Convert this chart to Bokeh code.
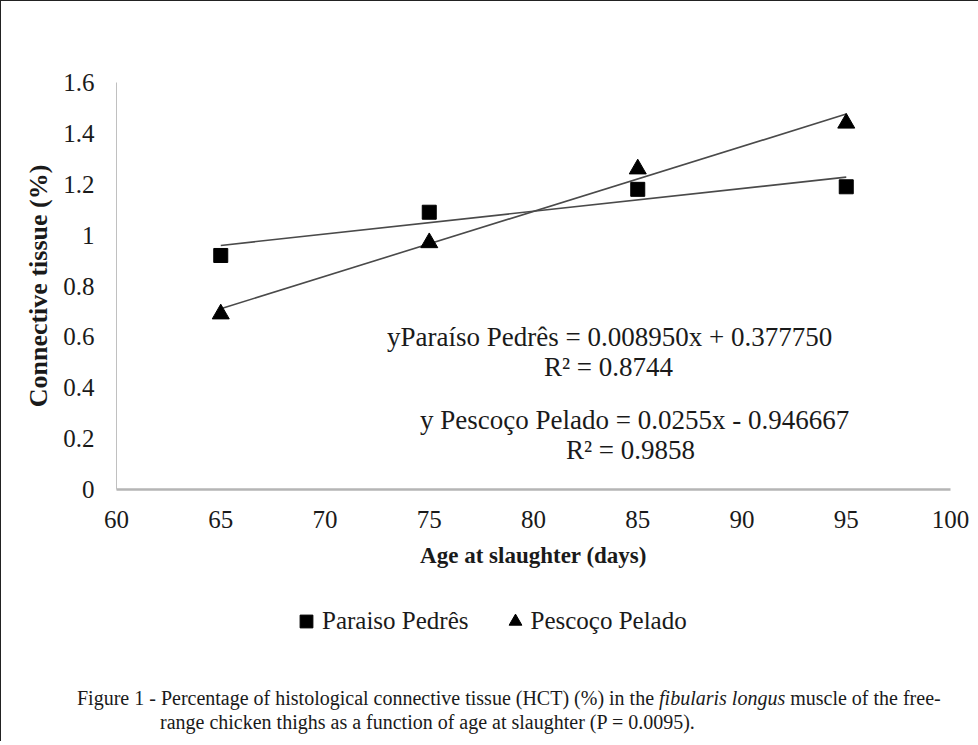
from bokeh.plotting import figure
from bokeh.models import (Range1d, FixedTicker, NumeralTickFormatter, Legend,
                          LegendItem, Label, Div)
from bokeh.layouts import column
from bokeh.embed import file_html
from bokeh.resources import INLINE

# ---------------- data ----------------
ages = [65, 75, 85, 95]
paraiso = [0.92, 1.09, 1.18, 1.19]
pescoco = [0.69, 0.97, 1.26, 1.44]

paraiso_slope, paraiso_intercept = 0.008950, 0.377750
pescoco_slope, pescoco_intercept = 0.0255, -0.946667

x_ticks = [60, 65, 70, 75, 80, 85, 90, 95, 100]
y_ticks = [0, 0.2, 0.4, 0.6, 0.8, 1.0, 1.2, 1.4, 1.6]

series_names = ["Paraiso Pedrês", "Pescoço Pelado"]
eq_texts = ["yParaíso Pedrês = 0.008950x + 0.377750", "R² = 0.8744",
            "y Pescoço Pelado = 0.0255x - 0.946667", "R² = 0.9858"]
x_title = "Age at slaughter (days)"
y_title = "Connective tissue (%)"
caption_1 = ("Figure 1 - Percentage of histological connective tissue (HCT) (%) in the "
             "<i>fibularis longus</i> muscle of the free-")
caption_2 = "range chicken thighs as a function of age at slaughter (P = 0.0095)."

SERIF = "Liberation Serif"
TXT = "#1a1a1a"

# ---------------- main chart ----------------
p = figure(width=968, height=578, x_range=Range1d(60, 100), y_range=Range1d(0, 1.6),
           output_backend="svg", toolbar_location=None,
           min_border_left=115, min_border_right=19, min_border_top=81,
           min_border_bottom=90)
p.outline_line_color = None
p.grid.grid_line_color = None
p.background_fill_color = "white"
p.border_fill_color = "white"

tx = [min(ages), max(ages)]
p.line(tx, [paraiso_slope * x + paraiso_intercept for x in tx], line_color="#4a4a4a", line_width=1.6)
p.line(tx, [pescoco_slope * x + pescoco_intercept for x in tx], line_color="#4a4a4a", line_width=1.6)

p.scatter(ages, paraiso, marker="square", size=14, fill_color="black", line_color="black")
p.scatter(ages, pescoco, marker="triangle", size=17, fill_color="black", line_color="black")

p.xaxis.ticker = FixedTicker(ticks=x_ticks)
p.yaxis.ticker = FixedTicker(ticks=y_ticks)
p.yaxis.formatter = NumeralTickFormatter(format="0.[0]")
for ax in (p.xaxis[0], p.yaxis[0]):
    ax.major_tick_line_color = None
    ax.minor_tick_line_color = None
    ax.major_label_text_font = SERIF
    ax.major_label_text_font_size = "25px"
    ax.major_label_text_color = TXT
    ax.axis_label_text_font = SERIF
    ax.axis_label_text_font_style = "bold"
    ax.axis_label_text_color = TXT
p.xaxis.axis_label_text_font_size = "23px"
p.yaxis.axis_label_text_font_size = "26px"
p.xaxis.axis_line_color = "#b5b5b5"
p.xaxis.axis_line_width = 2.5
p.yaxis.axis_line_color = "#c0c0c0"
p.yaxis.axis_line_width = 1
p.xaxis.axis_label = x_title
p.yaxis.axis_label = y_title
p.xaxis.major_label_standoff = 15
p.xaxis.axis_label_standoff = 12
p.yaxis.major_label_standoff = 16
p.yaxis.axis_label_standoff = 7

eq_pos = [(83.65, 0.598), (83.6, 0.48), (84.85, 0.275), (84.65, 0.157)]
for t, (ex, ey) in zip(eq_texts, eq_pos):
    p.add_layout(Label(x=ex, y=ey, text=t, text_font=SERIF, text_font_size="27px",
                       text_color=TXT, text_align="center", text_baseline="middle"))

# ---------------- legend strip ----------------
lg = figure(width=968, height=80, x_range=Range1d(0, 1), y_range=Range1d(0, 1),
            output_backend="svg", toolbar_location=None,
            x_axis_location=None, y_axis_location=None,
            min_border_left=0, min_border_right=0, min_border_top=4, min_border_bottom=0)
lg.outline_line_color = None
lg.grid.grid_line_color = None
# same series, drawn outside this strip's view: only their legend glyphs show
lg_sq = lg.scatter(ages, paraiso, marker="square", size=14, fill_color="black", line_color="black")
lg_tr = lg.scatter(ages, pescoco, marker="triangle", size=14, fill_color="black", line_color="black")
legend = Legend(items=[LegendItem(label=series_names[0], renderers=[lg_sq]),
                       LegendItem(label=series_names[1], renderers=[lg_tr])],
                orientation="horizontal", location=(174, 22))
legend.label_text_font = SERIF
legend.label_text_font_size = "25px"
legend.label_text_color = TXT
legend.border_line_color = None
legend.background_fill_alpha = 0
legend.glyph_width = 32
legend.glyph_height = 32
legend.label_standoff = 0
legend.spacing = 30
legend.margin = 0
legend.padding = 0
lg.add_layout(legend)

div = Div(text=(
    f'<div style="font-family:\'{SERIF}\';font-size:20px;color:{TXT};line-height:24px;'
    f'padding-top:22px;">'
    f'<div style="margin-left:71px;white-space:nowrap;">{caption_1}</div>'
    f'<div style="margin-left:154px;white-space:nowrap;">{caption_2}</div></div>'),
    width=968, height=72)

layout = column(p, lg, div, spacing=0,
                styles={"border-left": "1.5px solid #222",
                        "border-top": "1.5px solid #222",
                        "background-color": "white"})

open("out.html", "w").write(file_html(layout, INLINE))
